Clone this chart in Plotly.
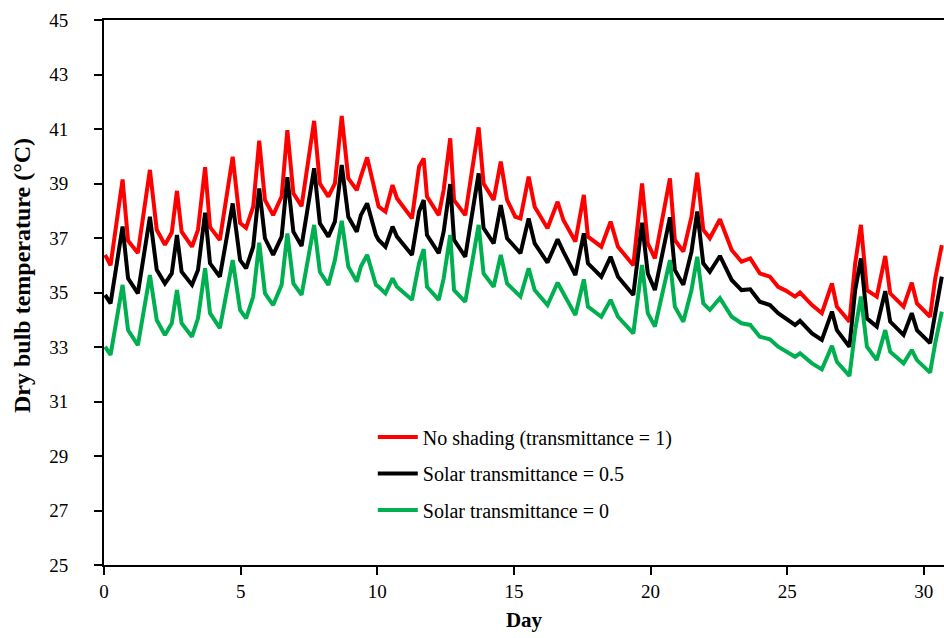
import plotly.graph_objects as go

day = [0.04, 0.24, 0.68, 0.88, 1.24, 1.68, 1.93, 2.23, 2.48, 2.67, 2.84, 3.22, 3.44, 3.70, 3.88, 4.24,
       4.71, 4.98, 5.20, 5.46, 5.68, 5.89, 6.19, 6.50, 6.71, 6.93, 7.23, 7.69, 7.90, 8.21, 8.45, 8.70,
       8.94, 9.25, 9.40, 9.63, 9.95, 10.05, 10.30, 10.56, 10.72, 11.27, 11.53, 11.70, 11.82, 12.25,
       12.43, 12.67, 12.81, 13.22, 13.71, 13.89, 14.26, 14.52, 14.75, 15.05, 15.24, 15.54, 15.76,
       16.23, 16.60, 16.81, 17.25, 17.56, 17.71, 18.20, 18.54, 18.81, 19.37, 19.69, 19.90, 20.16,
       20.71, 20.89, 21.20, 21.50, 21.71, 21.93, 22.17, 22.54, 22.97, 23.33, 23.65, 24.00, 24.37,
       24.67, 24.95, 25.29, 25.47, 25.91, 26.27, 26.64, 26.82, 27.28, 27.49, 27.70, 27.92, 28.28,
       28.59, 28.77, 29.26, 29.56, 29.75, 30.23, 30.42, 30.66]

no_shading = [36.38, 36.00, 39.15, 36.90, 36.45, 39.50, 37.30, 36.75, 37.20, 38.73, 37.23, 36.68, 37.30,
              39.60, 37.40, 36.93, 39.98, 37.55, 37.37, 38.15, 40.57, 38.40, 37.84, 38.52, 40.96, 38.64,
              38.17, 41.30, 39.00, 38.52, 39.00, 41.48, 39.19, 38.76, 39.25, 39.96, 38.58, 38.15, 37.97,
              38.94, 38.46, 37.72, 39.62, 39.92, 38.52, 37.84, 38.76, 40.66, 38.39, 37.84, 41.06, 39.00,
              38.40, 39.80, 38.40, 37.78, 37.72, 39.25, 38.15, 37.36, 38.33, 37.66, 36.87, 38.58, 37.05,
              36.68, 37.60, 36.68, 36.00, 39.00, 36.80, 36.25, 39.19, 36.93, 36.50, 37.78, 39.40, 37.30,
              36.99, 37.69, 36.56, 36.13, 36.25, 35.70, 35.58, 35.21, 35.07, 34.85, 35.00, 34.54, 34.24,
              35.33, 34.48, 33.93, 36.07, 37.48, 35.09, 34.85, 36.34, 34.97, 34.48, 35.36, 34.60, 34.11,
              35.52, 36.74]

trans_05 = [34.91, 34.60, 37.42, 35.52, 34.97, 37.78, 35.83, 35.33, 35.70, 37.11, 35.76, 35.28, 35.83,
            37.93, 36.07, 35.58, 38.27, 36.19, 35.89, 36.68, 38.82, 36.99, 36.38, 37.05, 39.23, 37.23,
            36.71, 39.56, 37.54, 37.05, 37.60, 39.68, 37.78, 37.23, 37.84, 38.27, 37.11, 36.93, 36.68,
            37.42, 37.05, 36.38, 37.97, 38.39, 37.11, 36.44, 37.23, 38.98, 36.93, 36.31, 39.37, 37.36,
            36.80, 38.21, 36.99, 36.62, 36.44, 37.72, 36.80, 36.10, 36.95, 36.50, 35.64, 37.17, 36.07,
            35.58, 36.31, 35.58, 34.91, 37.56, 35.70, 35.09, 37.76, 35.83, 35.28, 36.50, 37.97, 36.07,
            35.76, 36.34, 35.46, 35.09, 35.12, 34.66, 34.54, 34.24, 34.03, 33.81, 33.96, 33.50, 33.26,
            34.30, 33.62, 33.01, 35.09, 36.25, 34.05, 33.75, 35.05, 33.93, 33.44, 34.24, 33.62, 33.14,
            34.24, 35.58]

trans_0 = [33.01, 32.71, 35.28, 33.62, 33.07, 35.64, 33.99, 33.44, 33.87, 35.09, 33.87, 33.38, 34.05,
           35.89, 34.24, 33.69, 36.19, 34.36, 34.05, 34.85, 36.83, 34.97, 34.54, 35.28, 37.17, 35.33,
           34.91, 37.48, 35.76, 35.28, 36.19, 37.63, 35.95, 35.40, 35.95, 36.38, 35.28, 35.21, 34.97,
           35.52, 35.21, 34.73, 36.07, 36.59, 35.21, 34.73, 35.52, 37.11, 35.09, 34.66, 37.48, 35.70,
           35.21, 36.38, 35.33, 35.03, 34.85, 35.89, 35.09, 34.54, 35.36, 34.97, 34.17, 35.48, 34.48,
           34.11, 34.73, 34.11, 33.50, 36.01, 34.24, 33.75, 36.19, 34.48, 33.93, 35.09, 36.31, 34.60,
           34.36, 34.79, 34.11, 33.87, 33.81, 33.38, 33.28, 33.01, 32.86, 32.64, 32.77, 32.40, 32.18,
           33.04, 32.46, 31.94, 33.62, 34.85, 33.01, 32.52, 33.62, 32.83, 32.40, 32.89, 32.52, 32.06,
           33.14, 34.30]

series_names = ["No shading (transmittance = 1)", "Solar transmittance = 0.5", "Solar transmittance = 0"]
series_values = [no_shading, trans_05, trans_0]
series_colors = ["#FF0000", "#000000", "#00B050"]
x_ticks = [0, 5, 10, 15, 20, 25, 30]
y_ticks = [25, 27, 29, 31, 33, 35, 37, 39, 41, 43, 45]

FONT = "Liberation Serif, Times New Roman, serif"

fig = go.Figure()
legend_ids = ["legend", "legend2", "legend3"]
for name, vals, col, lg in zip(series_names, series_values, series_colors, legend_ids):
    fig.add_trace(go.Scatter(x=day, y=vals, mode="lines", name=name,
                             line=dict(color=col, width=4), legend=lg))

legend_y = [0.235, 0.168, 0.101]
leg_common = dict(x=0.320, xanchor="left", yanchor="middle", bgcolor="rgba(0,0,0,0)",
                  font=dict(family=FONT, size=20, color="black"), itemwidth=40)
fig.update_layout(
    width=944, height=638,
    margin=dict(l=104, r=0, t=20, b=73),
    plot_bgcolor="white", paper_bgcolor="white",
    showlegend=True,
    legend=dict(y=legend_y[0], **leg_common),
    legend2=dict(y=legend_y[1], **leg_common),
    legend3=dict(y=legend_y[2], **leg_common),
    xaxis=dict(range=[0, 30.74], tickvals=x_ticks, ticks="outside", ticklen=8, tickwidth=2,
               tickcolor="black", showline=True, linecolor="black", linewidth=2, mirror=True,
               showgrid=False, zeroline=False, ticklabelstandoff=0,
               tickfont=dict(family=FONT, size=19, color="black"),
               title=dict(text="<b>Day</b>", font=dict(family=FONT, size=21, color="black"), standoff=12)),
    yaxis=dict(range=[25, 45], tickvals=y_ticks, ticks="outside", ticklen=8, tickwidth=2,
               tickcolor="black", showline=True, linecolor="black", linewidth=2,
               showgrid=False, zeroline=False, ticklabelstandoff=22,
               tickfont=dict(family=FONT, size=19, color="black")),
    annotations=[dict(text="<b>Dry bulb temperature (°C)</b>", textangle=-90,
                      xref="paper", yref="paper", x=-104 / 840 + 22 / 840, y=(565 - 276) / 545,
                      xanchor="center", yanchor="middle", showarrow=False,
                      font=dict(family=FONT, size=24, color="black"))],
)

fig.write_html("out.html")
